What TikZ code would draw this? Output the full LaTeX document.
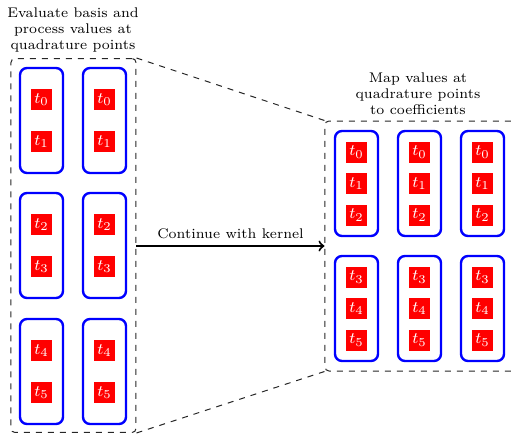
\documentclass[tikz,border=0pt]{standalone}
\usetikzlibrary{positioning}
\begin{document}
\begin{tikzpicture}[x=0.5pt,y=-0.5pt,
  panel/.style={draw=black!85, dashed, line width=0.5pt, rounded corners=2pt,
    inner sep=0pt},
  group/.style={draw=blue, line width=1.2pt, rounded corners=3.5pt,
    minimum width=21.5pt, minimum height=52.5pt, inner sep=0pt},
  cell/.style={fill=red, text=white, minimum size=10.5pt, inner sep=0pt,
    font=\footnotesize},
  caption/.style={font=\scriptsize, align=center, inner sep=0pt},
  flow/.style={->, line width=1pt}]
\useasboundingbox (0,0) rectangle (511,434);

% outer dashed panels
\node[panel, minimum width=62.5pt, minimum height=187pt] (lpanel) at (73.5,245.5) {};
\node[panel, minimum width=95pt, minimum height=125pt] (rpanel) at (420,246) {};

% captions
\node[caption] (ltitle) at (73,30) {Evaluate basis and\\process values at\\quadrature points};
\node[caption] (rtitle) at (418,94) {Map values at\\quadrature points\\to coefficients};

% left panel: three rows of two groups, two cells each
\foreach \r/\cy/\a/\b in {1/120.5/0/1, 2/245.5/2/3, 3/371.5/4/5}{
  \foreach \c/\cx in {1/41.5, 2/104.5}{
    \node[group] (lg\r\c) at (\cx,\cy) {};
    \node[cell] (lc\r\c a) at (\cx,\cy-21) {$t_{\a}$};
    \node[cell] (lc\r\c b) at (\cx,\cy+21) {$t_{\b}$};
  }
}

% right panel: two rows of three groups, three cells each
\foreach \r/\cy/\a/\b/\d in {1/183.5/0/1/2, 2/308.5/3/4/5}{
  \foreach \c/\cx in {1/356.5, 2/419.5, 3/482.5}{
    \node[group] (rg\r\c) at (\cx,\cy) {};
    \node[cell] (rc\r\c a) at (\cx,\cy-31.5) {$t_{\a}$};
    \node[cell] (rc\r\c b) at (\cx,\cy) {$t_{\b}$};
    \node[cell] (rc\r\c c) at (\cx,\cy+31.5) {$t_{\d}$};
  }
}

% zoom lines between the panels
\draw[panel] (lpanel.north east) -- (rpanel.north west);
\draw[panel] (lpanel.south east) -- (rpanel.south west);

% main arrow
\draw[flow] (rpanel.west -| lpanel.east) -- node[above=2pt, font=\scriptsize, inner sep=1pt] {Continue with kernel} (rpanel.west);
\end{tikzpicture}
\end{document}
